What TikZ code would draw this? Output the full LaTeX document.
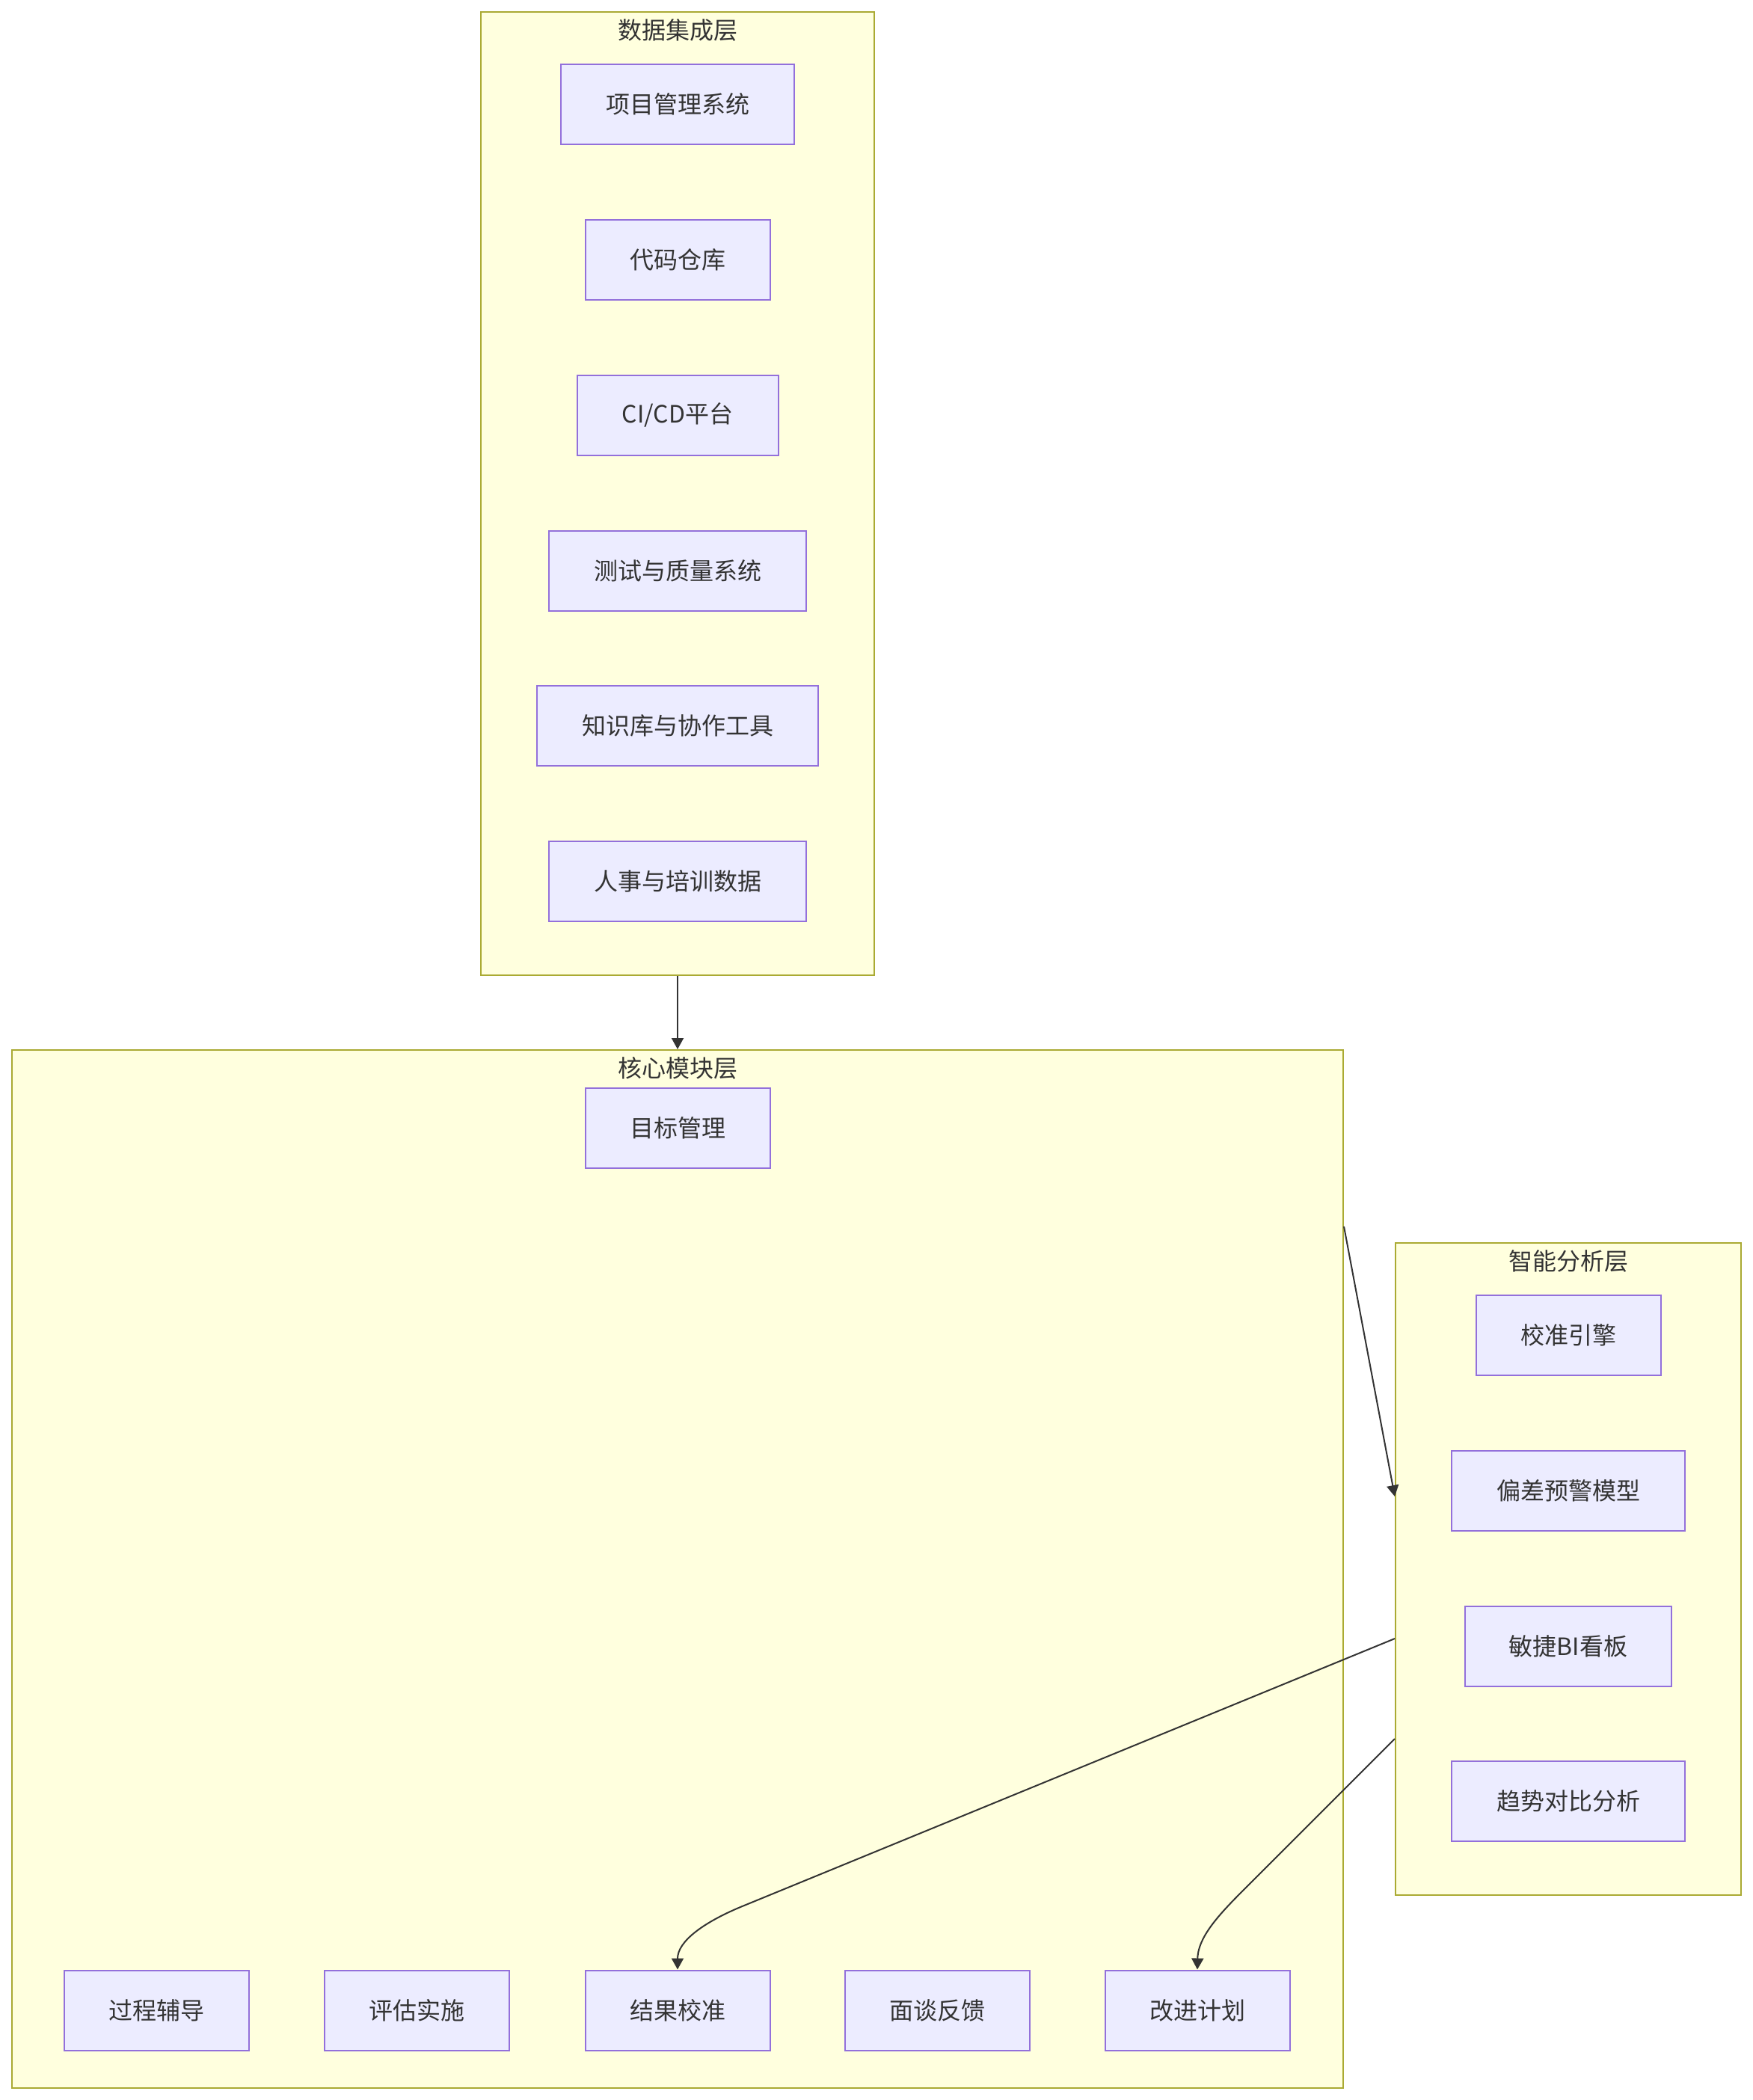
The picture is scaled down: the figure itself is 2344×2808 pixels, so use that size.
\documentclass[tikz,border=0pt]{standalone}
\usepackage{fontspec}
\setmainfont{Noto Sans CJK SC}
\usetikzlibrary{arrows.meta}
\definecolor{clfill}{HTML}{FFFFDE}
\definecolor{clline}{HTML}{AAAA33}
\definecolor{ndfill}{HTML}{ECECFF}
\definecolor{ndline}{HTML}{9370DB}
\definecolor{txt}{HTML}{333333}
\definecolor{edge}{HTML}{333333}
\tikzset{
  cluster/.style={draw=clline, fill=clfill, line width=2pt, inner sep=0pt, rectangle},
  ttl/.style={text=txt, inner sep=0pt, font=\fontsize{32}{38}\selectfont},
  nd/.style={draw=ndline, fill=ndfill, line width=2pt, inner sep=0pt, minimum height=107pt, text=txt, font=\fontsize{32}{38}\selectfont},
  arr/.style={draw=edge, line width=2pt, -{Triangle[length=15pt,width=16pt]}}
}
\begin{document}
\begin{tikzpicture}[x=1pt,y=-1pt]
\useasboundingbox (0,0) rectangle (2344,2808);
% clusters
\node[cluster, minimum width=526pt, minimum height=1288pt] (data) at (906,660) {};
\node[ttl] (datat) at (906,40) {数据集成层};
\node[cluster, minimum width=1780pt, minimum height=1388pt] (core) at (906,2098) {};
\node[ttl] (coret) at (906,1428) {核心模块层};
\node[cluster, minimum width=462pt, minimum height=872pt] (ana) at (2097,2098) {};
\node[ttl] (anat) at (2097,1686) {智能分析层};
% data nodes
\node[nd, minimum width=312pt] (d1) at (906,139.5) {项目管理系统};
\node[nd, minimum width=247pt] (d2) at (906,347.5) {代码仓库};
\node[nd, minimum width=269pt] (d3) at (906,555) {CI/CD平台};
\node[nd, minimum width=344pt] (d4) at (906,763) {测试与质量系统};
\node[nd, minimum width=376pt] (d5) at (906,970.5) {知识库与协作工具};
\node[nd, minimum width=344pt] (d6) at (906,1178.5) {人事与培训数据};
% core nodes
\node[nd, minimum width=247pt] (goal) at (906,1508) {目标管理};
\node[nd, minimum width=247pt] (c1) at (209.5,2688) {过程辅导};
\node[nd, minimum width=247pt] (c2) at (557,2688) {评估实施};
\node[nd, minimum width=247pt] (c3) at (906,2688) {结果校准};
\node[nd, minimum width=247pt] (c4) at (1253.5,2688) {面谈反馈};
\node[nd, minimum width=247pt] (c5) at (1601,2688) {改进计划};
% analysis nodes
\node[nd, minimum width=247pt] (a1) at (2097,1785) {校准引擎};
\node[nd, minimum width=312pt] (a2) at (2097,1993) {偏差预警模型};
\node[nd, minimum width=276pt] (a3) at (2097,2201) {敏捷BI看板};
\node[nd, minimum width=312pt] (a4) at (2097,2408) {趋势对比分析};
% edges
\draw[arr] (data.south) -- (core.north);
\draw[arr] ([yshift=-237pt]core.north east) -- ([yshift=-340pt]ana.north west);
\draw[arr] ([yshift=-530pt]ana.north west) -- (990,2550) .. controls (940,2571) and (906,2596) .. (c3.north);
\draw[arr] ([yshift=-664pt]ana.north west) -- (1683,2507) .. controls (1640,2550) and (1602,2585) .. (c5.north);
\end{tikzpicture}
\end{document}
